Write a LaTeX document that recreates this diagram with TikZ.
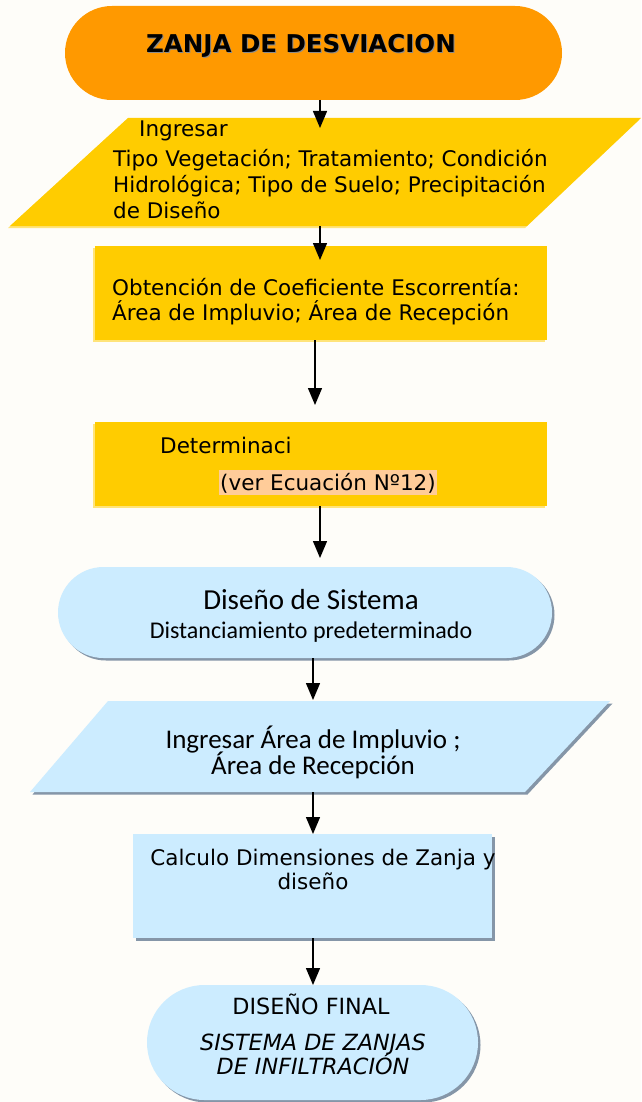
\documentclass[tikz,border=0pt]{standalone}
\usepackage{fontspec}
\setmainfont{DejaVu Sans}
\newfontfamily\carl{Carlito}
\usetikzlibrary{arrows.meta,shadows}
\definecolor{bg}{HTML}{FEFDF9}
\definecolor{orangeA}{HTML}{FF9900}
\definecolor{yellowA}{HTML}{FFCC00}
\definecolor{yellowS}{HTML}{FFE47A}
\definecolor{blueA}{HTML}{CCECFF}
\definecolor{blueS}{HTML}{8596A8}
\definecolor{peach}{HTML}{FFCC99}
\tikzset{
  arr/.style={line width=1.4pt, -{Triangle[width=14pt,length=17pt]}},
  shp/.style={inner sep=0pt, outer sep=0pt},
  yshadow/.style={drop shadow={shadow xshift=-2pt, shadow yshift=-2pt, fill=yellowS, opacity=1}},
  bshadow/.style={drop shadow={shadow xshift=2.5pt, shadow yshift=-2.5pt, fill=blueS, opacity=1}},
  txt/.style={inner sep=0pt, font=\fontsize{21.5}{25}\selectfont},
  ctxt/.style={inner sep=0pt, font=\carl\fontsize{27}{30}\selectfont},
  ftxt/.style={inner sep=0pt, font=\fontsize{22.3}{26}\selectfont},
}
\begin{document}
\begin{tikzpicture}[x=1pt,y=-1pt]
\fill[bg] (0,0) rectangle (641,1102);
\useasboundingbox (0,0) rectangle (641,1102);

% shapes
\node[shp, fill=orangeA, minimum width=497pt, minimum height=94pt, rounded corners=47pt] (start) at (313.5,53) {};
\fill[yellowA, yshadow] (128,118) -- (641,118) -- (527,226) -- (10,226) -- cycle;
\node[shp, fill=yellowA, yshadow, minimum width=452pt, minimum height=94pt] (r1) at (321,293) {};
\node[shp, fill=yellowA, yshadow, minimum width=452pt, minimum height=84pt] (r2) at (321,464) {};
\node[shp, fill=blueA, bshadow, minimum width=494pt, minimum height=91pt, rounded corners=45.5pt] (s1) at (305,612.5) {};
\fill[blueA, bshadow] (108,701) -- (610,701) -- (525,792) -- (30,792) -- cycle;
\node[shp, fill=blueA, bshadow, minimum width=359pt, minimum height=104pt] (r3) at (312.5,886) {};
\node[shp, fill=blueA, bshadow, minimum width=331pt, minimum height=115pt, rounded corners=57.5pt] (s2) at (312.5,1042.5) {};

% connector ends
\coordinate (e1) at (320,128);
\coordinate (p1b) at (320,226);
\coordinate (e2) at (320,260);
\coordinate (e3) at (315,405);
\coordinate (e4) at (320,558);
\coordinate (e5) at (313,700);
\coordinate (p2b) at (313,792);
\coordinate (x7) at (313,0);

\draw[arr] (start.south -| e1) -- (e1);
\draw[arr] (p1b) -- (e2);
\draw[arr] (r1.south -| e3) -- (e3);
\draw[arr] (r2.south -| e4) -- (e4);
\draw[arr] (s1.south -| e5) -- (e5);
\draw[arr] (p2b) -- (r3.north -| p2b);
\draw[arr] (r3.south -| x7) -- (s2.north -| x7);

% texts
\node[inner sep=0pt, font=\bfseries\fontsize{24.5}{28}\selectfont, text=black!45] at (302,47) {ZANJA DE DESVIACION};
\node[inner sep=0pt, font=\bfseries\fontsize{24.5}{28}\selectfont] (t0) at (301,46) {ZANJA DE DESVIACION};

\node[txt, anchor=base west] (ing) at (139,137) {Ingresar};
\node[txt, anchor=base west] (l1) at (113,167) {Tipo Vegetación; Tratamiento; Condición};
\node[txt, anchor=base west] (l2) at (113,193) {Hidrológica; Tipo de Suelo; Precipitación};
\node[txt, anchor=base west] (l3) at (113,218) {de Diseño};

\node[txt, anchor=base west] (o1) at (112,295) {Obtención de Coeficiente Escorrentía:};
\node[txt, anchor=base west] (o2) at (112,320) {Área de Impluvio; Área de Recepción};

\node[txt, anchor=base west] (d1) at (160,453) {Determinaci};
\node[txt, anchor=base west, fill=peach, inner xsep=1pt, inner ysep=2.5pt] (d2) at (219,490) {(ver Ecuación Nº12)};

\node[ctxt, anchor=base, font=\carl\fontsize{29}{32}\selectfont] (ds1) at (311,609) {Diseño de Sistema};
\node[ctxt, anchor=base, font=\carl\fontsize{24}{27}\selectfont] (ds2) at (311,638) {Distanciamiento predeterminado};

\node[ctxt, anchor=base] (ia1) at (313,748) {Ingresar Área de Impluvio ;};
\node[ctxt, anchor=base] (ia2) at (313,774) {Área de Recepción};

\node[txt, anchor=base] (c1) at (323,865) {Calculo Dimensiones de Zanja y};
\node[txt, anchor=base] (c2) at (313,889) {diseño};

\node[ftxt, anchor=base] (f1) at (311,1014) {DISEÑO FINAL};
\node[ftxt, anchor=base, font=\itshape\fontsize{22.3}{26}\selectfont] (f2) at (313,1050) {SISTEMA DE ZANJAS};
\node[ftxt, anchor=base, font=\itshape\fontsize{22.3}{26}\selectfont] (f3) at (313,1074) {DE INFILTRACIÓN};
\end{tikzpicture}
\end{document}
